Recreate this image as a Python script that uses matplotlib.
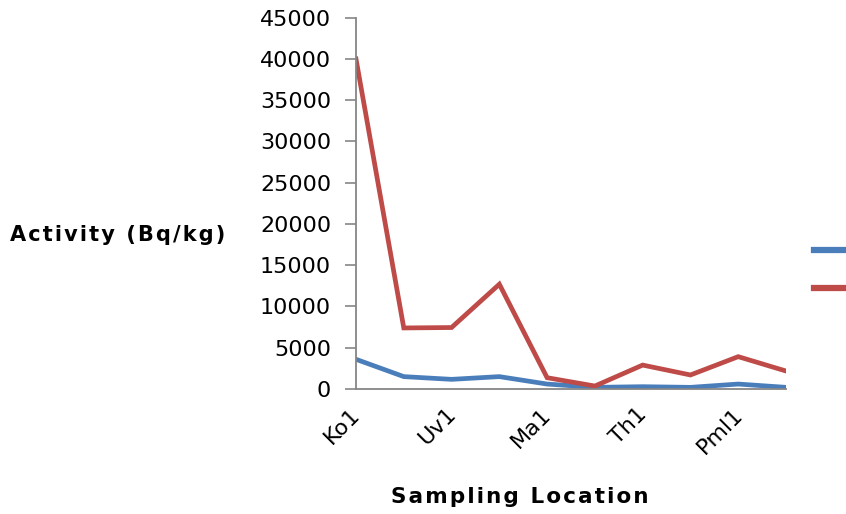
import numpy as np
import matplotlib
matplotlib.use("Agg")
import matplotlib.pyplot as plt
import matplotlib.transforms as mtransforms
from matplotlib.lines import Line2D

# sampling locations (only every other label is shown on the chart)
locations = ["Ko1", "", "Uv1", "", "Ma1", "", "Th1", "", "Pml1", ""]
# activity values (Bq/kg)
blue_vals = [3600, 1500, 1170, 1500, 600, 200, 280, 200, 600, 200]
red_vals = [40000, 7400, 7450, 12700, 1370, 360, 2900, 1700, 3920, 2180]
yticks = np.arange(0, 45001, 5000)

blue = "#4a7ebb"
red = "#be4b48"
grey = "#868686"


def spaced(s):
    # Excel-ish letter spacing
    return "\u200a".join(s)


fig = plt.figure(figsize=(8.46, 5.14), dpi=100)
ax = fig.add_axes([356/846, 1-389/514, (786-356)/846, (389-17.7)/514])

x = np.arange(len(locations))
ax.plot(x, blue_vals, color=blue, lw=3.4, solid_joinstyle="miter")
ax.plot(x, red_vals, color=red, lw=3.4, solid_joinstyle="miter")

ax.set_xlim(0, len(locations)-1)
ax.set_ylim(0, 45000)
ax.set_yticks(yticks)
ax.set_yticklabels([str(v) for v in yticks], fontsize=16)
ax.set_xticks(x)
ax.set_xticklabels(locations, fontsize=16, rotation=45, ha="right",
                   va="top", rotation_mode="anchor")
ax.tick_params(axis="x", length=0, pad=11)
ax.tick_params(axis="y", length=8, width=1.2, color=grey, pad=10)

# nudge the rotated labels a little to the left
shift = mtransforms.ScaledTranslation(-6/100, 0, fig.dpi_scale_trans)
for lab in ax.get_xticklabels():
    lab.set_transform(lab.get_transform() + shift)

for side in ["top", "right"]:
    ax.spines[side].set_visible(False)
for side in ["left", "bottom"]:
    ax.spines[side].set_color(grey)
    ax.spines[side].set_linewidth(1.3)

fig.text(10/846, 1-235/514, spaced("Activity (Bq/kg)"), fontsize=15,
         fontweight="bold", ha="left", va="center")
fig.text(520/846, 1-497/514, spaced("Sampling Location"), fontsize=15.5,
         fontweight="bold", ha="center", va="center")

handles = [Line2D([], [], color=blue, lw=4.5),
           Line2D([], [], color=red, lw=4.5)]
fig.legend(handles, ["", ""], loc="center left",
           bbox_to_anchor=(814/846, 1-270.5/514), frameon=False,
           fontsize=14, handlelength=1.65, handletextpad=0, borderpad=0,
           borderaxespad=0, labelspacing=0.95)

fig.savefig("out.png", dpi=100)
